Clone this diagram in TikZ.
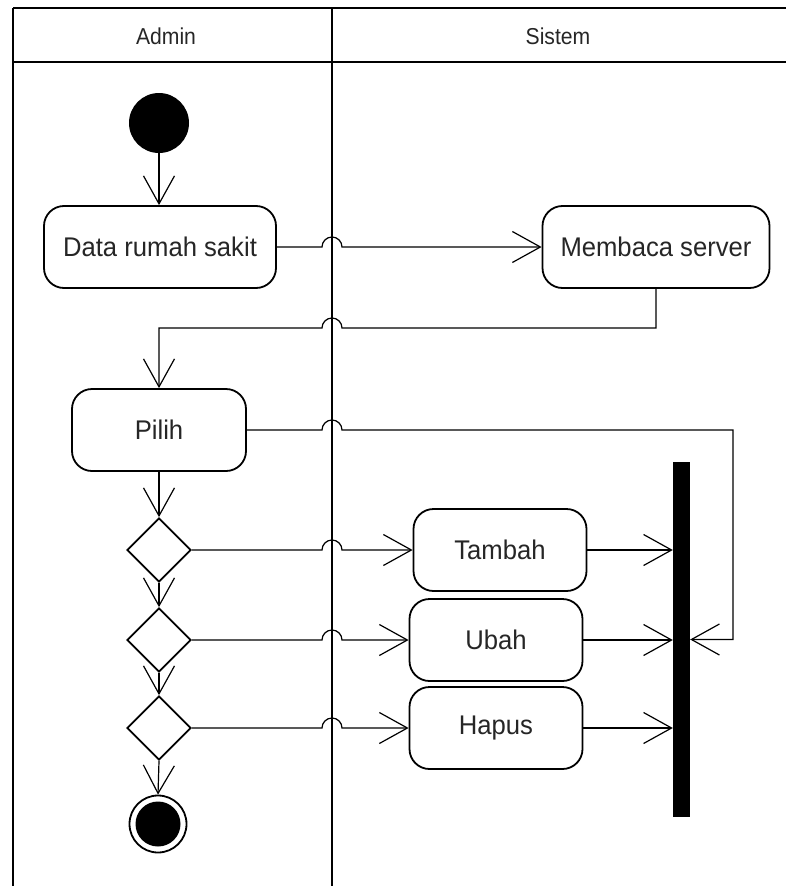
\documentclass[tikz,border=0pt]{standalone}
\usepackage{fontspec}
\usepackage{graphicx}
\setmainfont{Liberation Sans}
\usetikzlibrary{shapes.geometric,arrows.meta,calc}
\newcommand{\sqtext}[2][0.95]{\scalebox{#1}[1]{#2}}
\begin{document}
\begin{tikzpicture}[x=1pt,y=-1pt,
  every node/.style={text=black!85},
  act/.style={draw,line width=1.8pt,rounded corners=20pt,minimum height=82pt,inner sep=0pt,font=\fontsize{27}{31}\selectfont},
  dec/.style={draw,diamond,line width=1.8pt,aspect=1,minimum width=64pt,minimum height=64pt,inner sep=0pt},
  conn/.style={line width=1.2pt,-{Straight Barb[length=28pt,width=31pt,line width=1.2pt]}},
  lane/.style={line width=1.1pt},
  head/.style={font=\fontsize{23}{27}\selectfont}]
\useasboundingbox (0,0) rectangle (786,886);
% swimlanes
\draw[lane] (13,8) -- (786,8);
\draw[lane] (13,62) -- (786,62);
\draw[lane] (13,8) -- (13,886);
\draw[lane] (332,8) -- (332,886);
\node[head] (hadmin) at (166,36) {\sqtext[0.92]{Admin}};
\node[head] (hsistem) at (558,36) {\sqtext[0.92]{Sistem}};
% hop coordinates
\coordinate (hl) at (322,0);
\coordinate (hr) at (342,0);
\coordinate (loopx) at (733,0);
\coordinate (c1) at (0,328);
% nodes
\node[circle,fill=black,minimum size=60pt,inner sep=0pt] (start) at (159,123) {};
\node[act,minimum width=232pt] (data) at (160,247) {\sqtext{Data rumah sakit}};
\node[act,minimum width=227pt] (server) at (656,247) {\sqtext{Membaca server}};
\node[act,minimum width=174pt] (pilih) at (159,430) {\sqtext{Pilih}};
\node[dec] (d1) at (159,550) {};
\node[dec] (d2) at (159,640) {};
\node[dec] (d3) at (159,728) {};
\node[act,minimum width=173pt] (tambah) at (500,550) {\sqtext{Tambah}};
\node[act,minimum width=173pt] (ubah) at (496,640) {\sqtext{Ubah}};
\node[act,minimum width=173pt] (hapus) at (496,728) {\sqtext{Hapus}};
\node[rectangle,fill=black,minimum width=17pt,minimum height=355pt,inner sep=0pt] (bar) at (681.5,639.5) {};
\node[circle,draw,line width=1.8pt,minimum size=57pt,inner sep=0pt] (final) at (158,824) {};
\node[circle,fill=black,minimum size=45pt,inner sep=0pt] (finalin) at (158,824) {};
% connectors
\draw[conn] (start) -- (start |- data.north);
\draw[conn] (data.east) -- (data.east -| hl) arc[start angle=180,end angle=0,radius=10pt] -- (server.west);
\draw[conn] (server.south) -- (server.south |- c1) -- (hr |- c1) arc[start angle=0,end angle=180,radius=10pt] -- (pilih.north |- c1) -- (pilih.north);
\draw[conn] (pilih.east) -- (pilih.east -| hl) arc[start angle=180,end angle=0,radius=10pt] -- (pilih.east -| loopx) -- (bar.east -| loopx) -- (bar.east);
\draw[conn] (pilih.south) -- (d1.north);
\draw[conn] (d1.south) -- (d2.north);
\draw[conn] (d2.south) -- (d3.north);
\draw[conn] (d3.south) -- (final.north);
\draw[conn] (d1.east) -- (d1.east -| hl) arc[start angle=180,end angle=0,radius=10pt] -- (tambah.west);
\draw[conn] (d2.east) -- (d2.east -| hl) arc[start angle=180,end angle=0,radius=10pt] -- (ubah.west);
\draw[conn] (d3.east) -- (d3.east -| hl) arc[start angle=180,end angle=0,radius=10pt] -- (hapus.west);
\draw[conn] (tambah.east) -- (bar.west |- tambah.east);
\draw[conn] (ubah.east) -- (bar.west |- ubah.east);
\draw[conn] (hapus.east) -- (bar.west |- hapus.east);
\end{tikzpicture}
\end{document}
